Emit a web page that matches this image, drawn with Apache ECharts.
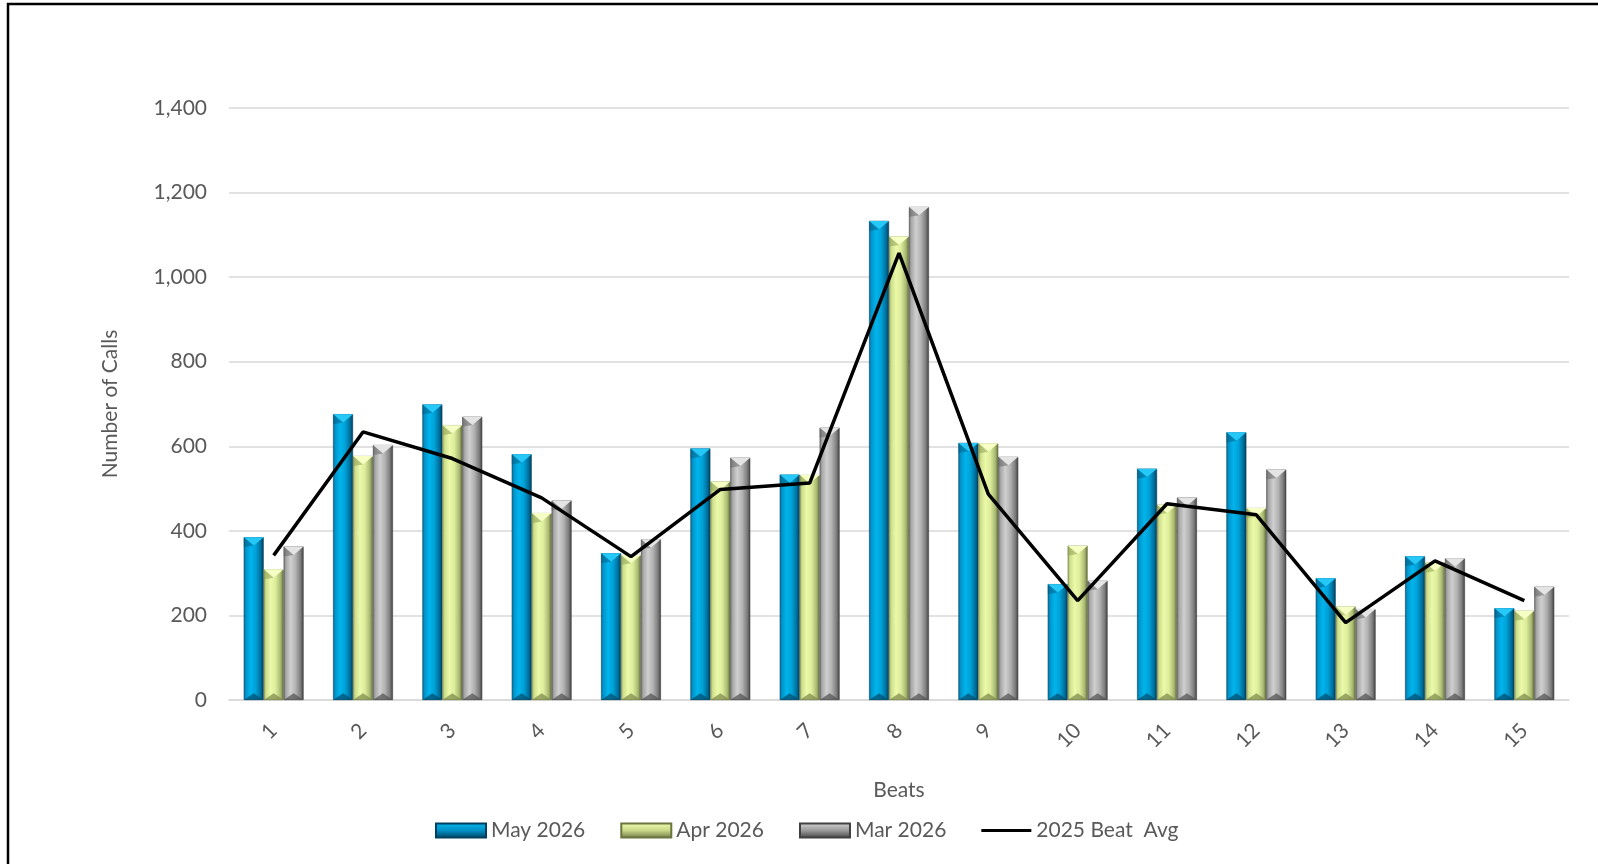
<!DOCTYPE html>
<html>
<head>
<meta charset="utf-8">
<script src="https://cdn.jsdelivr.net/npm/echarts@6/dist/echarts.min.js"></script>
<style>
html,body{margin:0;padding:0;background:#fff;}
#chart{width:1598px;height:864px;}
</style>
</head>
<body>
<div id="chart"></div>
<script>
const beats = ['1','2','3','4','5','6','7','8','9','10','11','12','13','14','15'];
const may2026 = [385, 676, 699, 581, 347, 595, 533, 1133, 608, 274, 547, 633, 288, 340, 217];
const apr2026 = [309, 577, 650, 442, 343, 517, 532, 1096, 607, 365, 462, 454, 221, 325, 211];
const mar2026 = [363, 603, 670, 472, 380, 573, 644, 1166, 575, 282, 479, 545, 215, 335, 268];
const avg2025 = [342, 634, 571, 478, 339, 498, 513, 1057, 487, 235, 464, 438, 183, 329, 235];
const yTicks = [0, 200, 400, 600, 800, 1000, 1200, 1400];

const FONT = 'Lato';
const TXT = '#595959';
const FS = 21;
const GAP = 0.33;

function hGrad(stops){
  return {type:'linear',x:0,y:0,x2:1,y2:0,colorStops:stops.map(c=>({offset:c[0],color:c[1]}))};
}
function vGrad(stops){
  return {type:'linear',x:0,y:0,x2:0,y2:1,colorStops:stops.map(c=>({offset:c[0],color:c[1]}))};
}
const blueG = hGrad([[0,'#0a6f9a'],[0.12,'#0096cc'],[0.35,'#00b4ec'],[0.6,'#00a2d8'],[0.85,'#006f9c'],[1,'#003c58']]);
const greenG = hGrad([[0,'#9aa866'],[0.12,'#cfdf8c'],[0.35,'#eafaa8'],[0.6,'#dcec9a'],[0.85,'#a9b872'],[1,'#5f6a38']]);
const grayG = hGrad([[0,'#7a7a7a'],[0.12,'#a8a8a8'],[0.35,'#cfcfcf'],[0.6,'#b2b2b2'],[0.85,'#7c7c7c'],[1,'#3e3e3e']]);
const blueL = vGrad([[0,'#00b8f0'],[0.5,'#0090c4'],[1,'#00405f']]);
const greenL = vGrad([[0,'#f0ffb0'],[0.5,'#c8d888'],[1,'#6a7540']]);
const grayL = vGrad([[0,'#d8d8d8'],[0.5,'#9a9a9a'],[1,'#404040']]);

function bevel(k, values, topColor, sideColor, botColor){
  return {
    type:'custom', name:'bevel'+k, data:values.map((v,i)=>[i,v]), z:5, silent:true,
    renderItem:function(params, api){
      const idx = api.value(0), val = api.value(1);
      const top = api.coord([idx, val]);
      const base = api.coord([idx, 0]);
      const cw = api.size([1,0])[0];
      const gw = cw*(1-GAP);
      const bw = gw/3;
      const l = top[0] - gw/2 + k*bw;
      const r = l + bw;
      const d = bw*0.42;
      return {type:'group', children:[
        {type:'polygon', shape:{points:[[l,top[1]],[r,top[1]],[l+bw/2,top[1]+d]]}, style:{fill:topColor}},
        {type:'polygon', shape:{points:[[l,top[1]],[l+bw/2,top[1]+d],[l,top[1]+d*1.2]]}, style:{fill:sideColor, opacity:0.5}},
        {type:'polygon', shape:{points:[[l,base[1]],[r,base[1]],[l+bw/2,base[1]-d*0.8]]}, style:{fill:botColor, opacity:0.7}}
      ]};
    }
  };
}

const chart = echarts.init(document.getElementById('chart'));
chart.setOption({
  animation:false,
  backgroundColor:'#fff',
  textStyle:{fontFamily:FONT},
  graphic:[{type:'rect',shape:{x:8,y:4,width:1700,height:1000},style:{fill:'none',stroke:'#000',lineWidth:2.5},z:100,silent:true}],
  grid:{left:229,right:29,top:108,bottom:164,containLabel:false},
  legend:{
    left:430, top:815, itemWidth:50, itemHeight:14, itemGap:35,
    textStyle:{fontFamily:FONT,fontSize:FS,color:TXT},
    data:[
      {name:'May 2026',icon:'rect',itemStyle:{color:blueL}},
      {name:'Apr 2026',icon:'rect',itemStyle:{color:greenL}},
      {name:'Mar 2026',icon:'rect',itemStyle:{color:grayL}},
      {name:'2025 Beat  Avg',icon:'path://M0 0 H0.01 V14 H0 Z M0 5.4 H50 V8.6 H0 Z M49.99 0 H50 V14 H49.99 Z',itemStyle:{color:'#000'}}
    ]
  },
  xAxis:{
    type:'category', data:beats,
    name:'Beats', nameLocation:'middle', nameGap:80,
    nameTextStyle:{fontFamily:FONT,fontSize:FS,color:TXT},
    axisLine:{lineStyle:{color:'#d9d9d9',width:1.5}},
    axisTick:{show:false},
    axisLabel:{rotate:45,margin:27,fontFamily:FONT,fontSize:FS,color:TXT}
  },
  yAxis:{
    type:'value', min:0, max:1400, interval:200,
    name:'Number of Calls', nameLocation:'middle', nameGap:108,
    nameTextStyle:{fontFamily:FONT,fontSize:FS,color:TXT},
    axisLine:{show:false}, axisTick:{show:false},
    splitLine:{lineStyle:{color:'#d9d9d9',width:1.5}},
    axisLabel:{margin:22,fontFamily:FONT,fontSize:FS,color:TXT,
      formatter:v=> yTicks.includes(v) ? v.toLocaleString('en-US') : ''}
  },
  series:[
    {name:'May 2026',type:'bar',data:may2026,barGap:'0%',barCategoryGap:'33%',
      itemStyle:{color:blueG,borderColor:'#00405f',borderWidth:0.6}},
    {name:'Apr 2026',type:'bar',data:apr2026,barGap:'0%',barCategoryGap:'33%',
      itemStyle:{color:greenG,borderColor:'#6a7540',borderWidth:0.6}},
    {name:'Mar 2026',type:'bar',data:mar2026,barGap:'0%',barCategoryGap:'33%',
      itemStyle:{color:grayG,borderColor:'#404040',borderWidth:0.6}},
    bevel(0, may2026, '#26c8f8', '#005a80', '#004a6a'),
    bevel(1, apr2026, '#f6ffc4', '#8a9a50', '#7a8848'),
    bevel(2, mar2026, '#e4e4e4', '#606060', '#505050'),
    {name:'2025 Beat  Avg',type:'line',data:avg2025,symbol:'none',showSymbol:false,
      lineStyle:{color:'#000',width:3.5},itemStyle:{color:'#000'},z:10}
  ]
});
</script>
</body>
</html>
